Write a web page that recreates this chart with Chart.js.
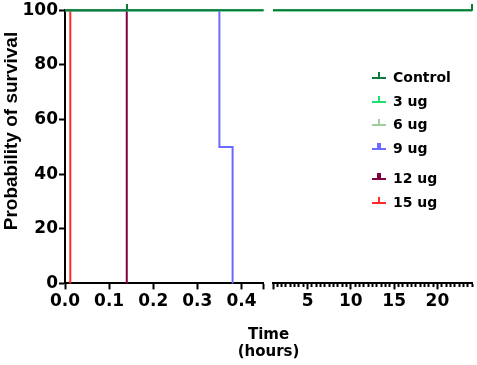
<!DOCTYPE html>
<html>
<head>
<meta charset="utf-8">
<script src="https://cdn.jsdelivr.net/npm/chart.js@4/dist/chart.umd.min.js"></script>
<style>
  html, body { margin: 0; padding: 0; background: #fff; }
  #wrap { position: relative; width: 477px; height: 365px; }
  #legend { position: absolute; left: 0; top: 0; width: 477px; height: 365px; pointer-events: none; }
  .row { position: absolute; left: 372px; height: 20px; display: flex; align-items: center;
         font: bold 14px "DejaVu Sans", sans-serif; color: #000; }
  .sym { position: relative; width: 14px; height: 20px; margin-right: 7px; }
  .sym .h { position: absolute; left: 0; top: 10px; width: 14px; height: 2px; }
  .sym .v { position: absolute; top: 5px; height: 6px; }
</style>
</head>
<body>
<div id="wrap">
  <canvas id="c" width="477" height="365"></canvas>
  <div id="legend"></div>
</div>
<script>
// ---------------- data ----------------
const groups = ['Control', '3 ug', '6 ug', '9 ug', '12 ug', '15 ug'];
const controlTime = [0, 24];      const controlSurv = [100, 100];
const ug3Time     = [0, 24];      const ug3Surv     = [100, 100];
const ug6Time     = [0, 24];      const ug6Surv     = [100, 100];
const ug9Time     = [0, 0.35, 0.38]; const ug9Surv  = [100, 50, 0];
const ug12Time    = [0, 0.14];    const ug12Surv    = [100, 0];
const ug15Time    = [0, 0.012];   const ug15Surv    = [100, 0];
const controlCensorTime = [0.14, 24];
const leftTickValues  = [0, 0.1, 0.2, 0.3, 0.4];
const leftTickLabels  = ['0.0', '0.1', '0.2', '0.3', '0.4'];
const rightTickValues = [5, 10, 15, 20];
const rightTickLabels = ['5', '10', '15', '20'];
const yTickLabels = ['0', '20', '40', '60', '80', '100'];

// ---------------- styling ----------------
const colors = ['#0b7a3b', '#1ee070', '#9fcf9f', '#6b6bff', '#82003f', '#ff2a2a'];
const symWidths = [2, 2, 2, 4, 4, 2];
const legendTops = [67, 91, 114, 138, 168, 192];
const BREAK_L = 0.45, BREAK_R = 1, XMAX = 24;

const series = [
  [controlTime, controlSurv], [ug3Time, ug3Surv], [ug6Time, ug6Surv],
  [ug9Time, ug9Surv], [ug12Time, ug12Surv], [ug15Time, ug15Surv]
];

function survAt(t, times, surv) {
  let s = surv[0];
  for (let i = 0; i < times.length; i++) if (times[i] <= t) s = surv[i];
  return s;
}
function leftSeg(times, surv) {
  const pts = [];
  for (let i = 0; i < times.length; i++) if (times[i] <= BREAK_L) pts.push({x: times[i], y: surv[i]});
  if (times[times.length - 1] > BREAK_L) pts.push({x: BREAK_L, y: survAt(BREAK_L, times, surv)});
  return pts;
}
function rightSeg(times, surv) {
  if (times[times.length - 1] <= BREAK_L) return [];
  const pts = [{x: BREAK_R, y: survAt(BREAK_R, times, surv)}];
  for (let i = 0; i < times.length; i++) if (times[i] > BREAK_R) pts.push({x: times[i], y: surv[i]});
  return pts;
}
function censorImg(color, w) {
  const c = document.createElement('canvas');
  c.width = w; c.height = 13;
  const g = c.getContext('2d');
  g.fillStyle = color;
  g.fillRect(0, 0, w, 7);
  return c;
}

const datasets = [];
series.forEach(([t, s], i) => {
  const base = {
    label: groups[i], borderColor: colors[i], backgroundColor: colors[i],
    borderWidth: 2, pointRadius: 0, stepped: true, fill: false, clip: false,
    yAxisID: 'y'
  };
  datasets.push(Object.assign({}, base, {xAxisID: 'x1', data: leftSeg(t, s)}));
  const r = rightSeg(t, s);
  if (r.length) datasets.push(Object.assign({}, base, {xAxisID: 'x2', data: r}));
});
// censor marks (Control)
const cImg = censorImg(colors[0], 2);
const cLeft = controlCensorTime.filter(v => v <= BREAK_L).map(v => ({x: v, y: survAt(v, controlTime, controlSurv)}));
const cRight = controlCensorTime.filter(v => v >= BREAK_R).map(v => ({x: v, y: survAt(v, controlTime, controlSurv)}));
datasets.unshift({label: 'cR', data: cRight, xAxisID: 'x2', yAxisID: 'y', showLine: false,
  pointStyle: cImg, pointRadius: 4, clip: false, borderColor: colors[0]});
datasets.unshift({label: 'cL', data: cLeft, xAxisID: 'x1', yAxisID: 'y', showLine: false,
  pointStyle: cImg, pointRadius: 4, clip: false, borderColor: colors[0]});

const tickFont = {family: 'DejaVu Sans', weight: 'bold', size: 17, lineHeight: 1.1};
const axisBorder = {display: true, color: '#000', width: 2};

function pick(v, vals, labels) {
  for (let i = 0; i < vals.length; i++) if (Math.abs(vals[i] - v) < 1e-6) return labels[i];
  return '';
}
function isAny(v, vals) { return vals.some(x => Math.abs(x - v) < 1e-6); }

const chart = new Chart(document.getElementById('c'), {
  type: 'line',
  data: {datasets},
  options: {
    responsive: false, animation: false, devicePixelRatio: 1,
    layout: {padding: {left: 0, right: 2, top: 0, bottom: 0}},
    plugins: {legend: {display: false}, tooltip: {enabled: false}},
    scales: {
      x1: {
        type: 'linear', position: 'bottom', stack: 'xs', stackWeight: 200,
        min: 0, max: BREAK_L,
        grid: {display: true, drawOnChartArea: false, drawTicks: true, tickLength: 6, tickWidth: 2,
          tickColor: c => (c.tick && (isAny(c.tick.value, leftTickValues) || Math.abs(c.tick.value - BREAK_L) < 1e-6)) ? '#000' : 'rgba(0,0,0,0)'},
        border: axisBorder,
        ticks: {stepSize: 0.05, autoSkip: false, maxRotation: 0, maxTicksLimit: 100,
          color: '#000', font: tickFont, padding: 3,
          callback: v => pick(v, leftTickValues, leftTickLabels)}
      },
      x2: {
        type: 'linear', position: 'bottom', stack: 'xs', stackWeight: 210,
        min: BREAK_R, max: XMAX, offset: false,
        grid: {display: true, drawOnChartArea: false, drawTicks: true, tickLength: 6, tickWidth: 2,
          tickColor: '#000',
          tickBorderDash: c => (c.tick && (isAny(c.tick.value, rightTickValues) || c.tick.value === BREAK_R)) ? [] : [3, 20]},
        border: axisBorder,
        ticks: {stepSize: 0.5, autoSkip: false, maxRotation: 0, maxTicksLimit: 100,
          color: '#000', font: tickFont, padding: 3,
          callback: v => pick(v, rightTickValues, rightTickLabels)}
      },
      xt: {
        type: 'linear', position: 'bottom', min: 0, max: 1,
        grid: {display: false, drawTicks: false}, border: {display: false},
        ticks: {display: false},
        title: {display: true, text: ['Time', '(hours)'], color: '#000',
          font: {family: 'DejaVu Sans', weight: 'bold', size: 15, lineHeight: 1.13},
          padding: {top: 13, bottom: 4}}
      },
      y: {
        type: 'linear', position: 'left', min: 0, max: 100,
        grid: {display: true, drawOnChartArea: false, drawTicks: true, tickLength: 6,
          tickColor: '#000', tickWidth: 2},
        border: axisBorder,
        ticks: {stepSize: 20, color: '#000', font: tickFont, padding: 1,
          callback: v => yTickLabels[Math.round(v / 20)] || ''},
        title: {display: true, text: '      Probability of survival', color: '#000',
          font: {family: 'Liberation Sans', weight: 'bold', size: 19, lineHeight: 1.2},
          padding: {top: 0, bottom: 0}},
        afterFit: s => { s.width = 65; }
      }
    }
  },
  plugins: [{
    // leave a gap (axis break) between the two x segments
    id: 'axisBreak',
    afterLayout(ch) {
      const a = ch.scales.x1, b = ch.scales.x2;
      const gap = 9.5;
      const total = a.width + b.width;
      const wA = (total - gap) * 200 / 400.5;
      a.right = a.left + wA; a.width = wA;
      b.left = a.right + gap; b.width = b.right - b.left;
      a.configure(); b.configure();
    }
  }]
});

// HTML legend built from the group names
const legend = document.getElementById('legend');
groups.forEach((g, i) => {
  const row = document.createElement('div');
  row.className = 'row';
  row.style.top = legendTops[i] + 'px';
  const sym = document.createElement('div');
  sym.className = 'sym';
  const h = document.createElement('div'); h.className = 'h'; h.style.background = colors[i];
  const v = document.createElement('div'); v.className = 'v'; v.style.background = colors[i];
  v.style.width = symWidths[i] + 'px'; v.style.left = (7 - symWidths[i] / 2) + 'px';
  sym.appendChild(h); sym.appendChild(v);
  const txt = document.createElement('span'); txt.textContent = g;
  row.appendChild(sym); row.appendChild(txt);
  legend.appendChild(row);
});
</script>
</body>
</html>
